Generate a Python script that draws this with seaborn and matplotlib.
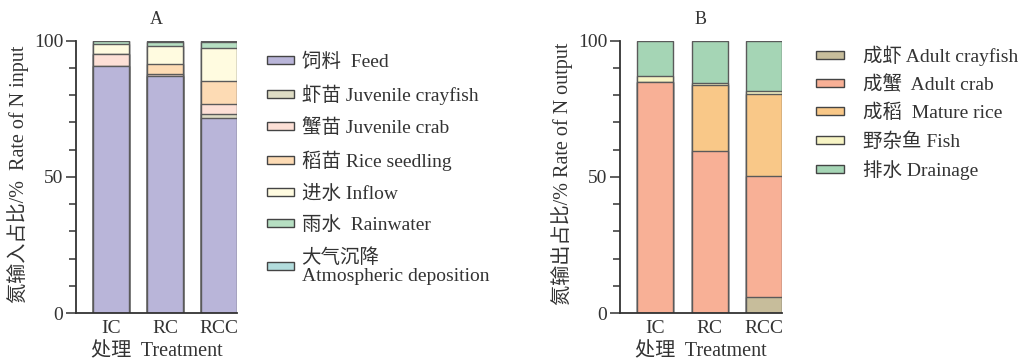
import numpy as np
import pandas as pd
import matplotlib
matplotlib.use("Agg")
import matplotlib.pyplot as plt
from matplotlib.patches import Patch
from matplotlib.ticker import MultipleLocator
import seaborn as sns

# Treatments
treatments = ["IC", "RC", "RCC"]

# Nitrogen input shares (%)
feed = [90.8, 87.0, 71.4]
juvenile_crayfish = [0.0, 0.0, 1.5]
juvenile_crab = [4.2, 0.7, 3.8]
rice_seedling = [0.0, 3.8, 8.5]
inflow = [3.6, 6.3, 11.9]
rainwater = [1.2, 1.6, 2.3]
atmospheric = [0.2, 0.6, 0.6]

# Nitrogen output shares (%)
adult_crayfish = [0.0, 0.0, 5.9]
adult_crab = [84.9, 59.3, 44.3]
mature_rice = [0.0, 24.3, 30.3]
fish = [2.0, 0.8, 1.0]
drainage = [13.1, 15.6, 18.5]

input_labels = ["饲料  Feed", "虾苗 Juvenile crayfish", "蟹苗 Juvenile crab",
                "稻苗 Rice seedling", "进水 Inflow", "雨水  Rainwater",
                "大气沉降\nAtmospheric deposition"]
output_labels = ["成虾 Adult crayfish", "成蟹  Adult crab", "成稻  Mature rice",
                 "野杂鱼 Fish", "排水 Drainage"]

input_colors = ["#b9b5d9", "#dedcc4", "#fde0d6", "#fddbb4", "#fffbe0",
                "#b6dfc2", "#b2dcdc"]
output_colors = ["#c7bd9b", "#f8b096", "#f9c888", "#f7f4c4", "#a5d5b5"]

sns.set_style("ticks")
plt.rcParams["font.family"] = ["Liberation Serif", "Noto Sans CJK SC"]
plt.rcParams["axes.edgecolor"] = "#333333"
plt.rcParams["xtick.color"] = "#333333"
plt.rcParams["ytick.color"] = "#333333"
plt.rcParams["text.color"] = "#333333"
plt.rcParams["axes.labelcolor"] = "#333333"

fig = plt.figure(figsize=(10.30, 3.61), dpi=100)
axA = fig.add_axes([76 / 1030, 48 / 361, 161 / 1030, 272.5 / 361])
axB = fig.add_axes([620 / 1030, 48 / 361, 162 / 1030, 272.5 / 361])

EDGE = "#5a5a5a"
FS = 14


def stacked(ax, layers, colors):
    df = pd.DataFrame(np.array(layers).T, index=treatments)
    cum = df.cumsum(axis=1)
    # draw from the full stack down so each lower segment covers the one above
    for k in range(cum.shape[1] - 1, -1, -1):
        sns.barplot(x=treatments, y=cum[k].values, color=colors[k],
                    saturation=1, edgecolor=EDGE, linewidth=1.0,
                    width=0.667, errorbar=None, ax=ax)


def style(ax, title, ylabel):
    ax.set_xlim(-0.65, 2.33)
    ax.set_ylim(0, 100)
    ax.yaxis.set_major_locator(MultipleLocator(50))
    ax.yaxis.set_minor_locator(MultipleLocator(10))
    ax.tick_params(axis="y", which="major", length=7, width=1.1,
                   labelsize=FS, pad=2)
    ax.tick_params(axis="y", which="minor", length=5, width=1.1)
    ax.tick_params(axis="x", length=0, labelsize=FS, pad=5)
    for s in ("top", "right"):
        ax.spines[s].set_visible(False)
    for s in ("left", "bottom"):
        ax.spines[s].set_linewidth(1.3)
    ax.set_title(title, fontsize=FS - 1, pad=12)
    ax.set_xlabel("处理  Treatment", fontsize=FS + 0.5, labelpad=4)
    ax.set_ylabel(ylabel, fontsize=FS + 0.5)
    ax.yaxis.set_label_coords(-0.29, 0.51)


stacked(axA, [feed, juvenile_crayfish, juvenile_crab, rice_seedling,
              inflow, rainwater, atmospheric], input_colors)
stacked(axB, [adult_crayfish, adult_crab, mature_rice, fish, drainage],
        output_colors)

style(axA, "A", "氮输入占比/%  Rate of N input")
style(axB, "B", "氮输出占比/% Rate of N output")

hA = [Patch(facecolor=c, edgecolor="#444444", linewidth=1.0) for c in input_colors]
legA = fig.legend(hA, input_labels, loc="upper left",
                  bbox_to_anchor=(249 / 1030, 1 - 35 / 361), frameon=False,
                  fontsize=FS, handlelength=1.4, handleheight=0.25,
                  labelspacing=0.7, handletextpad=0.4)
for t in legA.get_texts():
    t.set_linespacing(1.12)

hB = [Patch(facecolor=c, edgecolor="#444444", linewidth=1.0) for c in output_colors]
fig.legend(hB, output_labels, loc="upper left",
           bbox_to_anchor=(798 / 1030, 1 - 28 / 361), frameon=False,
           fontsize=FS, handlelength=1.45, handleheight=0.25,
           labelspacing=0.5, handletextpad=1.0)

fig.savefig("out.png", dpi=100, facecolor="white")
